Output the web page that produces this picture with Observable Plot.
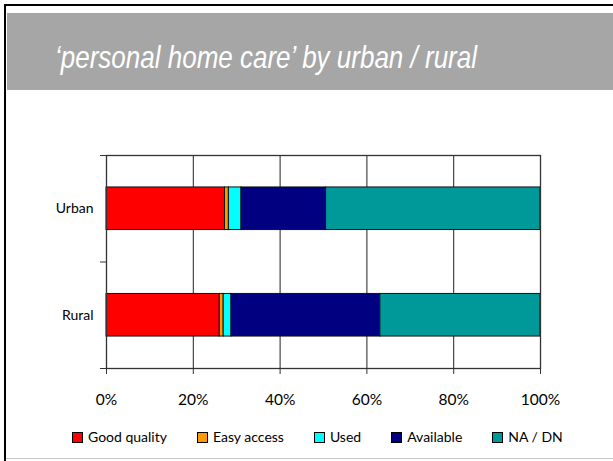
<!DOCTYPE html>
<html>
<head>
<meta charset="utf-8">
<script src="https://cdn.jsdelivr.net/npm/d3@7"></script>
<script src="https://cdn.jsdelivr.net/npm/@observablehq/plot@0.6"></script>
<style>
  html, body { margin: 0; padding: 0; background: #fff; }
  #slide { position: relative; width: 613px; height: 461px; overflow: hidden; background: #fff; }
  #frameL { position: absolute; z-index: 5; left: 4px; top: 4px; width: 2px; height: 457px; background: #000; }
  #frameT { position: absolute; z-index: 5; left: 4px; top: 4px; width: 609px; height: 2px; background: #000; }
  #frameB { position: absolute; z-index: 5; left: 6px; top: 458px; width: 607px; height: 1px; background: #c8c8c8; }
  #band { position: absolute; left: 7px; top: 13px; width: 606px; height: 77px; background: #a6a6a6; }
  #title { position: absolute; left: 55px; top: 41px; font-family: "Liberation Sans", Arial, sans-serif; font-style: italic;
           font-size: 32px; line-height: 32px; color: #fff; white-space: nowrap; transform-origin: 0 0; }
  #chart { position: absolute; left: 0; top: 130px; }
  #legend { position: absolute; left: 72px; top: 429px; display: flex; gap: 30px; font-family: Lato, "Open Sans", sans-serif;
            font-size: 14px; color: #000; line-height: 16px; }
  .item { display: flex; align-items: center; white-space: nowrap; }
  .sw { width: 9px; height: 9px; border: 1px solid #000; margin-right: 5px; box-sizing: content-box; }
</style>
</head>
<body>
<div id="slide">
  <div id="band"></div>
  <div id="title">‘personal home care’ by urban / rural</div>
  <div id="chart"></div>
  <div id="legend"></div>
  <div id="frameL"></div>
  <div id="frameT"></div>
  <div id="frameB"></div>
</div>
<script>
const categories = ["Urban", "Rural"];
const seriesNames = ["Good quality", "Easy access", "Used", "Available", "NA / DN"];
const urbanValues = [27.3, 0.9, 2.9, 19.5, 49.4];
const ruralValues = [26.1, 0.9, 1.8, 34.3, 36.9];
const xTicks = [0, 20, 40, 60, 80, 100];
const seriesColors = ["#FF0000", "#FF9900", "#00FFFF", "#000080", "#009999"];

const valuesByCategory = { Urban: urbanValues, Rural: ruralValues };
const n = categories.length;
const catPos = (c) => n - categories.indexOf(c) - 0.5;
const half = 0.2;

const data = [];
for (const c of categories) {
  seriesNames.forEach((s, i) => data.push({ category: c, series: s, value: valuesByCategory[c][i] }));
}

const plot = Plot.plot({
  width: 613,
  height: 290,
  marginLeft: 106,
  marginRight: 73,
  marginTop: 25,
  marginBottom: 52,
  style: { fontFamily: "Lato, 'Open Sans', sans-serif", background: "transparent", color: "#000" },
  x: { domain: [0, 100] },
  y: { domain: [0, n] },
  color: { domain: seriesNames, range: seriesColors },
  marks: [
    Plot.gridX(xTicks, { stroke: "#222", strokeOpacity: 1, strokeWidth: 1 }),
    Plot.rectX(data, Plot.stackX({
      x: "value",
      y1: d => catPos(d.category) - half,
      y2: d => catPos(d.category) + half,
      fill: "series",
      stroke: "#111",
      strokeWidth: 1
    })),
    Plot.frame({ stroke: "#333", strokeWidth: 1.3 }),
    Plot.axisX({ ticks: xTicks, tickFormat: d => d + "%", tickSize: 6, tickPadding: 19, fontSize: 15.5, stroke: "#333", label: null }),
    Plot.axisY({ ticks: d3.range(0, n + 1), tickFormat: () => "", tickSize: 6, stroke: "#333", label: null }),
    Plot.axisY({ ticks: categories.map(catPos), tickFormat: p => categories[n - 0.5 - p], tickSize: 0, tickPadding: 13, fontSize: 14, label: null })
  ]
});
document.getElementById("chart").appendChild(plot);

const legend = document.getElementById("legend");
seriesNames.forEach((s, i) => {
  const item = document.createElement("div");
  item.className = "item";
  const sw = document.createElement("span");
  sw.className = "sw";
  sw.style.background = seriesColors[i];
  const t = document.createElement("span");
  t.textContent = s;
  item.appendChild(sw);
  item.appendChild(t);
  legend.appendChild(item);
});

const title = document.getElementById("title");
const w = title.getBoundingClientRect().width;
title.style.transform = `scaleX(${422 / w})`;
</script>
</body>
</html>
